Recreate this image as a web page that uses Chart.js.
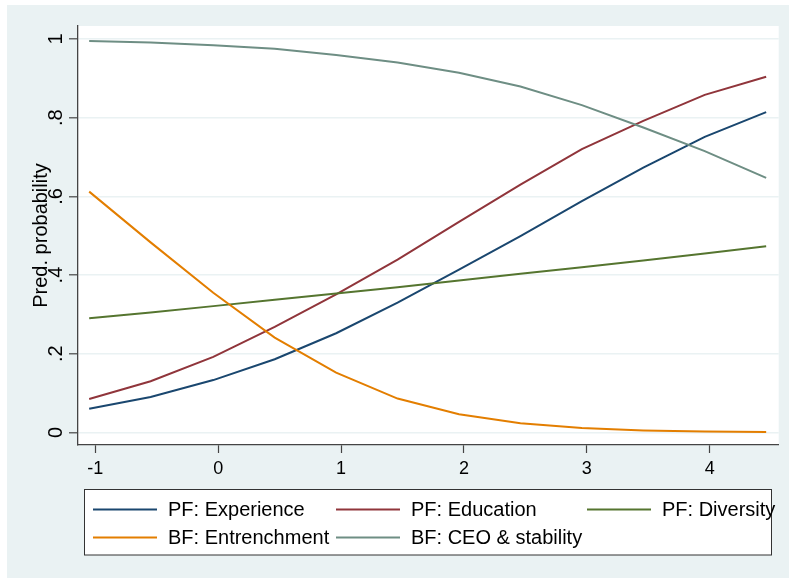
<!DOCTYPE html>
<html><head><meta charset="utf-8">
<script src="https://cdn.jsdelivr.net/npm/chart.js@4.4.1/dist/chart.umd.min.js"></script>
<style>html,body{margin:0;padding:0;background:#fff;}canvas{display:block;}</style>
</head><body>
<canvas id="c" width="789" height="578"></canvas>
<script>
// ---- data ----
const xValues = [-1.05, -0.55, -0.04, 0.46, 0.96, 1.46, 1.96, 2.46, 2.96, 3.46, 3.96, 4.46];
const seriesNames = ["PF: Experience", "PF: Education", "PF: Diversity", "BF: Entrenchment", "BF: CEO & stability"];
const experience   = [0.060, 0.090, 0.133, 0.186, 0.252, 0.330, 0.414, 0.499, 0.588, 0.673, 0.751, 0.814];
const education    = [0.085, 0.130, 0.192, 0.268, 0.351, 0.439, 0.535, 0.630, 0.720, 0.792, 0.858, 0.904];
const diversity    = [0.290, 0.305, 0.321, 0.337, 0.353, 0.369, 0.386, 0.403, 0.420, 0.437, 0.455, 0.473];
const entrenchment = [0.612, 0.483, 0.355, 0.241, 0.152, 0.086, 0.046, 0.023, 0.011, 0.005, 0.002, 0.001];
const ceoStability = [0.995, 0.991, 0.984, 0.975, 0.959, 0.940, 0.914, 0.879, 0.832, 0.775, 0.715, 0.647];
const xTickValues = [-1, 0, 1, 2, 3, 4];
const xTickLabels = ["-1", "0", "1", "2", "3", "4"];
const yTickValues = [0, 0.2, 0.4, 0.6, 0.8, 1];
const yTickLabels = ["0", ".2", ".4", ".6", ".8", "1"];
const yTitle = "Pred. probability";

// ---- styles ----
const colors = ["#1a476f", "#90353b", "#55752f", "#e37e00", "#6e8e84"];
const allSeries = [experience, education, diversity, entrenchment, ceoStability];
const FONT = "'Liberation Sans', Arial, sans-serif";
const BG = "#eaf2f3";

const datasets = allSeries.map((s, i) => ({
  label: seriesNames[i],
  data: s.map((v, k) => ({x: xValues[k], y: v})),
  borderColor: colors[i],
  backgroundColor: colors[i],
  borderWidth: 2,
  pointRadius: 0,
  tension: 0,
  fill: false,
  order: allSeries.length - i
}));

const bgPlugin = {
  id: 'bg',
  beforeDraw(chart) {
    const ctx = chart.ctx;
    ctx.save();
    ctx.fillStyle = '#fff';
    ctx.fillRect(0, 0, chart.width, chart.height);
    ctx.fillStyle = BG;
    ctx.fillRect(7, 5, chart.width - 7, chart.height - 5);
    const a = chart.chartArea;
    ctx.fillStyle = '#fff';
    ctx.fillRect(a.left, a.top, a.right - a.left, a.bottom - a.top);
    ctx.restore();
  }
};

const labelPlugin = {
  id: 'labels',
  afterDraw(chart) {
    const ctx = chart.ctx;
    const ys = chart.scales.y;
    ctx.save();
    ctx.fillStyle = '#000';
    ctx.font = "20px " + FONT;
    ctx.textAlign = 'center';
    ctx.textBaseline = 'alphabetic';
    yTickValues.forEach((v, i) => {
      const py = ys.getPixelForValue(v);
      ctx.save();
      ctx.translate(62, py);
      ctx.rotate(-Math.PI / 2);
      ctx.fillText(yTickLabels[i], 0, 0);
      ctx.restore();
    });
    // legend
    const bx = 84.5, by = 489.5, bw = 687, bh = 65.5;
    ctx.fillStyle = '#fff';
    ctx.fillRect(bx, by, bw, bh);
    ctx.strokeStyle = '#333';
    ctx.lineWidth = 1;
    ctx.strokeRect(bx, by, bw, bh);
    const cols = [{lx: 93, tx: 168}, {lx: 336, tx: 411}, {lx: 587, tx: 662}];
    const rows = [509.5, 537.5];
    ctx.font = "20px " + FONT;
    ctx.textAlign = 'left';
    ctx.textBaseline = 'middle';
    chart.data.datasets.forEach((ds, i) => {
      const c = cols[i % 3], r = rows[Math.floor(i / 3)];
      ctx.strokeStyle = ds.borderColor;
      ctx.lineWidth = 2;
      ctx.beginPath();
      ctx.moveTo(c.lx, r);
      ctx.lineTo(c.lx + 64, r);
      ctx.stroke();
      ctx.fillStyle = '#000';
      ctx.fillText(ds.label, c.tx, r + 1);
    });
    ctx.restore();
  }
};

new Chart(document.getElementById('c'), {
  type: 'line',
  data: {datasets},
  options: {
    responsive: false,
    animation: false,
    events: [],
    layout: {padding: {left: 0, top: 26, right: 10.3, bottom: 0}},
    plugins: {legend: {display: false}, tooltip: {enabled: false}},
    scales: {
      x: {
        type: 'linear',
        min: -1.141, max: 4.562,
        afterFit(s) { s.height = 133; },
        afterBuildTicks(s) { s.ticks = xTickValues.map(v => ({value: v})); },
        grid: {drawOnChartArea: false, drawTicks: true, tickLength: 8, tickColor: '#444', tickWidth: 1.2},
        border: {display: true, color: '#444', width: 1.3},
        ticks: {
          color: '#000',
          font: {family: FONT, size: 18},
          padding: 5,
          maxRotation: 0,
          callback(v) { const i = xTickValues.indexOf(v); return i >= 0 ? xTickLabels[i] : ''; }
        }
      },
      y: {
        type: 'linear',
        min: -0.032, max: 1.033,
        afterFit(s) { s.width = 78; },
        afterBuildTicks(s) { s.ticks = yTickValues.map(v => ({value: v})); },
        grid: {color: BG, lineWidth: 1.6, drawTicks: true, tickLength: 9, tickColor: '#444', tickWidth: 1.2},
        border: {display: true, color: '#444', width: 1.3},
        ticks: {display: false},
        title: {display: true, text: yTitle, color: '#000', font: {family: FONT, size: 20}, padding: {top: 29, bottom: 0}}
      }
    }
  },
  plugins: [bgPlugin, labelPlugin]
});
</script>
</body></html>
